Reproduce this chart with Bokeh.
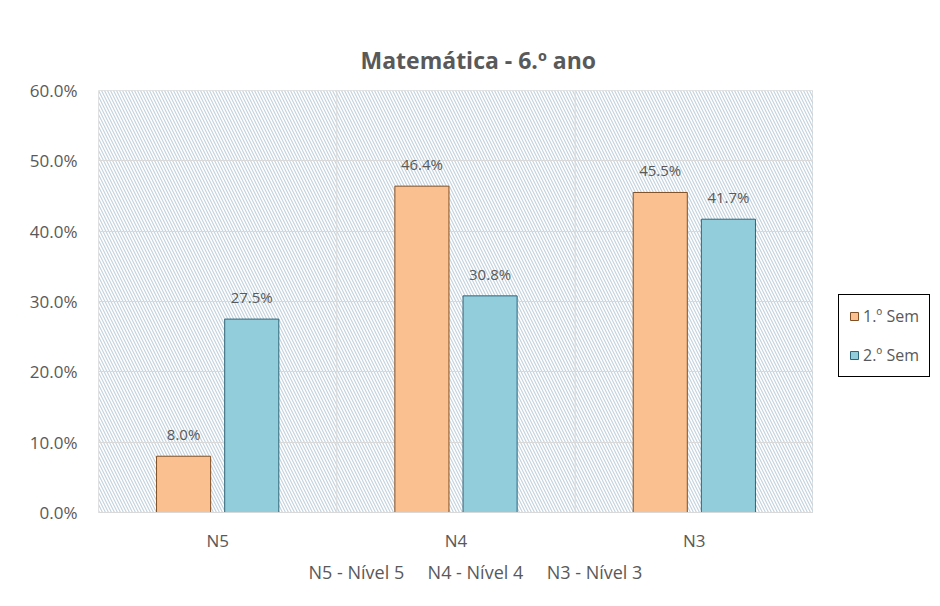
from bokeh.plotting import figure
from bokeh.layouts import row
from bokeh.models import (ColumnDataSource, FactorRange, Range1d, PrintfTickFormatter,
                          FixedTicker, BoxAnnotation, LabelSet, Legend, LegendItem,
                          Span, Title)
from bokeh.core.properties import value
from bokeh.transform import dodge
from bokeh.embed import file_html
from bokeh.resources import INLINE

# Percentage of students per level, by semester
categories = ["N5", "N4", "N3"]
sem1 = [8.0, 46.4, 45.5]
sem2 = [27.5, 30.8, 41.7]
series_names = ["1.º Sem", "2.º Sem"]
series_fill = ["#fac090", "#92cddc"]
series_line = ["#7f4f25", "#2f6579"]
y_ticks = [0, 10, 20, 30, 40, 50, 60]
chart_title = "Matemática - 6.º ano"
footnotes = ["N5 - Nível 5", "N4 - Nível 4", "N3 - Nível 3"]

FONT = "Open Sans"
GREY = "#595959"
NBSP = "\u00a0"

src = ColumnDataSource(dict(
    cat=categories,
    s1=sem1,
    s2=sem2,
    l1=[f"{v:.1f}%" for v in sem1],
    l2=[f"{v:.1f}%" for v in sem2],
))

# ---- main chart -------------------------------------------------------------
p = figure(x_range=FactorRange(*categories, range_padding=0),
           y_range=Range1d(0, 60),
           width=813, height=606,
           min_border_left=98, min_border_right=0,
           min_border_top=90, min_border_bottom=94,
           output_backend="svg", toolbar_location=None)

p.background_fill_color = "white"
p.border_fill_color = "white"
p.outline_line_color = "#e3e3e3"

# diagonal hatching over the plot area
p.add_layout(BoxAnnotation(fill_alpha=0, line_alpha=0,
                           hatch_pattern="\\", hatch_color="#c5d3de",
                           hatch_scale=6, hatch_weight=1.2, level="image"))

# grid
p.xgrid.grid_line_color = None
p.ygrid.grid_line_color = "#d9d9d9"
p.ygrid.ticker = FixedTicker(ticks=y_ticks)
for b in range(1, len(categories)):
    p.add_layout(Span(location=b, dimension="height",
                      line_color="#d9d9d9", line_width=1, level="underlay"))

# bars
w = 0.227
off = 0.143
p.vbar(x=dodge("cat", -off, range=p.x_range), top="s1", width=w, source=src,
       fill_color=series_fill[0], line_color=series_line[0], line_width=1)
p.vbar(x=dodge("cat", off, range=p.x_range), top="s2", width=w, source=src,
       fill_color=series_fill[1], line_color=series_line[1], line_width=1)

# value labels
for col, lab, sh in (("s1", "l1", -off), ("s2", "l2", off)):
    p.add_layout(LabelSet(x=dodge("cat", sh, range=p.x_range), y=col, text=lab,
                          source=src, y_offset=12, text_align="center",
                          text_baseline="bottom", text_font=value(FONT),
                          text_font_size="15px", text_color=GREY))

# axes
p.yaxis.ticker = FixedTicker(ticks=y_ticks)
p.yaxis.formatter = PrintfTickFormatter(format="%.1f%%")
p.yaxis.axis_line_color = None
p.yaxis.major_tick_line_color = None
p.yaxis.minor_tick_line_color = None
p.yaxis.major_label_standoff = 15
p.yaxis.major_label_text_font = FONT
p.yaxis.major_label_text_font_size = "17px"
p.yaxis.major_label_text_color = GREY

p.xaxis.axis_line_color = "#d9d9d9"
p.xaxis.major_tick_line_color = None
p.xaxis.major_label_standoff = 10
p.xaxis.major_label_text_font = FONT
p.xaxis.major_label_text_font_size = "17px"
p.xaxis.major_label_text_color = GREY

# titles: placed from the left of the plot area, since the chart
# (plot area + legend) is wider than the plot area itself
p.title.text = chart_title
p.title.align = "left"
p.title.text_font = FONT
p.title.text_font_size = "23px"
p.title.text_font_style = "bold"
p.title.text_color = GREY
p.title.offset = 262
p.title.standoff = 30

p.add_layout(Title(text=(NBSP * 5).join(f.replace(" ", NBSP) for f in footnotes),
                   align="left", offset=210, text_font=FONT,
                   text_font_size="18px", text_font_style="normal",
                   text_color=GREY, standoff=6), "below")

# ---- legend panel -----------------------------------------------------------
lg = figure(width=127, height=606, x_range=Range1d(0, 1), y_range=Range1d(0, 1),
            min_border=0, x_axis_location=None, y_axis_location=None,
            output_backend="svg", toolbar_location=None)
lg.grid.grid_line_color = None
lg.outline_line_color = None
lg.background_fill_color = "white"
lg.border_fill_color = "white"

# zero-size proxy bars that only carry the series styles for the legend
proxy = ColumnDataSource(dict(x=[0], top=[0]))
items = []
for name, fc, lc in zip(series_names, series_fill, series_line):
    r = lg.vbar(x="x", top="top", width=0, source=proxy,
                fill_color=fc, line_color=lc)
    items.append(LegendItem(label=name, renderers=[r]))

legend = Legend(items=items, location=(25, 135), orientation="vertical",
                border_line_color="black", border_line_width=1,
                border_line_alpha=1.0,
                background_fill_color="white", background_fill_alpha=1,
                label_text_font=FONT, label_text_font_size="16px",
                label_text_color=GREY, glyph_width=10, glyph_height=10,
                label_height=20, label_standoff=4, spacing=17, padding=10,
                margin=0)
lg.add_layout(legend, "center")

layout = row(p, lg, spacing=0)

open("out.html", "w").write(file_html(layout, INLINE))
